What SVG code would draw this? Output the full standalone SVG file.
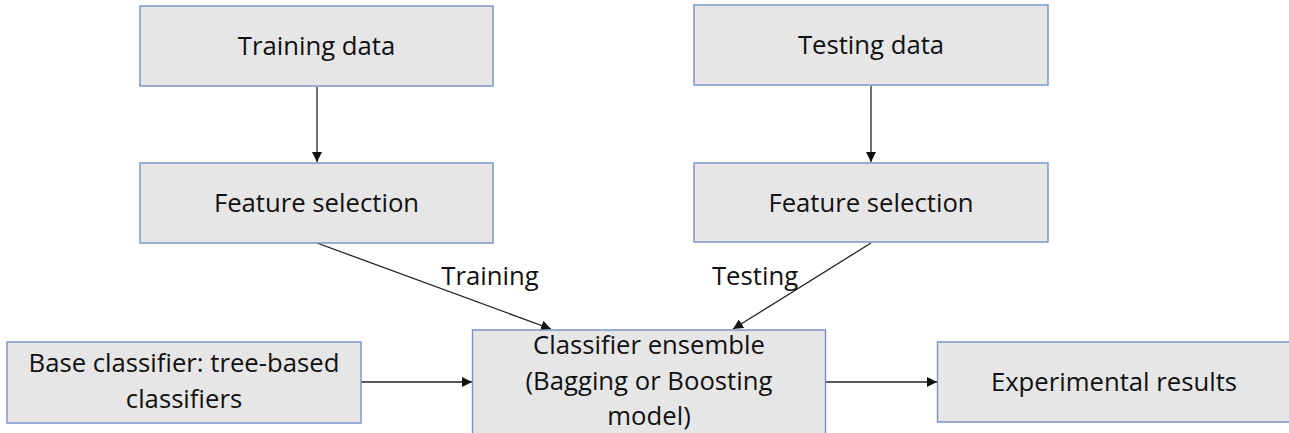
<svg xmlns="http://www.w3.org/2000/svg" width="1289" height="433" viewBox="0 0 1289 433">
<style>
.box{fill:#e6e6e6;stroke:#7391c9;stroke-width:1.4}
.t{font-family:"Open Sans","Liberation Sans",sans-serif;font-size:25.7px;fill:#111;text-anchor:middle}
.c{stroke:#222;stroke-width:1.3;fill:none;marker-end:url(#ah)}
</style>
<defs>
<marker id="ah" viewBox="0 0 10 10" refX="10" refY="5" markerWidth="10" markerHeight="10" markerUnits="userSpaceOnUse" orient="auto">
<path d="M0,0 L10,5 L0,10 z" fill="#111"/>
</marker>
</defs>
<rect width="1289" height="433" fill="#fff"/>
<g id="connectors">
<line class="c" x1="317" y1="87" x2="317" y2="162"/>
<line class="c" x1="871" y1="86" x2="871" y2="162"/>
<line class="c" x1="317" y1="243" x2="551" y2="329"/>
<line class="c" x1="871" y1="243" x2="733" y2="329"/>
<line class="c" x1="361" y1="382" x2="472" y2="382"/>
<line class="c" x1="826" y1="382" x2="937" y2="382"/>
<text class="t" x="490" y="285">Training</text>
<text class="t" x="755" y="285">Testing</text>
</g>
<g id="training-data">
<rect class="box" x="140" y="6" width="353" height="80"/>
<text class="t" x="316.5" y="55">Training data</text>
</g>
<g id="testing-data">
<rect class="box" x="694" y="5" width="354" height="80"/>
<text class="t" x="871" y="54">Testing data</text>
</g>
<g id="feature-selection-train">
<rect class="box" x="140" y="163" width="353" height="80"/>
<text class="t" x="316.5" y="212">Feature selection</text>
</g>
<g id="feature-selection-test">
<rect class="box" x="694" y="163" width="354" height="79"/>
<text class="t" x="871" y="212">Feature selection</text>
</g>
<g id="base-classifier">
<rect class="box" x="7" y="342" width="354" height="81"/>
<text class="t" x="184" y="372">Base classifier: tree-based</text>
<text class="t" x="184" y="408">classifiers</text>
</g>
<g id="classifier-ensemble">
<rect class="box" x="472.5" y="330" width="353" height="110"/>
<text class="t" x="649" y="354">Classifier ensemble</text>
<text class="t" x="649" y="390">(Bagging or Boosting</text>
<text class="t" x="649" y="425">model)</text>
</g>
<g id="experimental-results">
<rect class="box" x="937.5" y="342" width="360" height="80"/>
<text class="t" x="1114" y="391">Experimental results</text>
</g>
</svg>
